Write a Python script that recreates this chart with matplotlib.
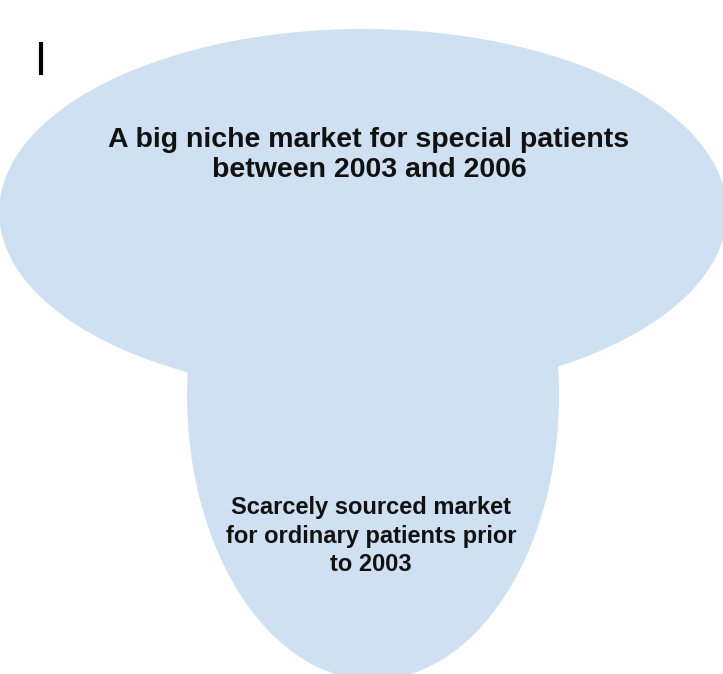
import matplotlib.pyplot as plt
from matplotlib.patches import Ellipse

# Textos del diagrama
etiquetas = [
    "A big niche market for special patients\nbetween 2003 and 2006",
    "Scarcely sourced market\nfor ordinary patients prior\nto 2003",
]
color_relleno = "#cee0f2"

fig = plt.figure(figsize=(7.23, 6.74), dpi=100)
ax = fig.add_axes([0, 0, 1, 1])
ax.set_xlim(0, 723)
ax.set_ylim(674, 0)
ax.axis('off')

# Elipse grande (mercado nicho)
ax.add_patch(Ellipse((363, 212), 728, 366, facecolor=color_relleno, edgecolor='none'))

# Elipse inferior (mercado ordinario)
ax.add_patch(Ellipse((373, 395), 372, 570, facecolor=color_relleno, edgecolor='none'))

# Barra negra de la esquina
ax.plot([41, 41], [42, 75], color='black', linewidth=3, solid_capstyle='butt')

ax.text(369, 155, etiquetas[0], ha='center', va='center', fontsize=20.5,
        fontweight='bold', family='Liberation Sans', color='#111111', linespacing=1.22)
ax.text(371, 536, etiquetas[1], ha='center', va='center', fontsize=17,
        fontweight='bold', family='Liberation Sans', color='#111111', linespacing=1.3)

fig.savefig('out.png', dpi=100)
